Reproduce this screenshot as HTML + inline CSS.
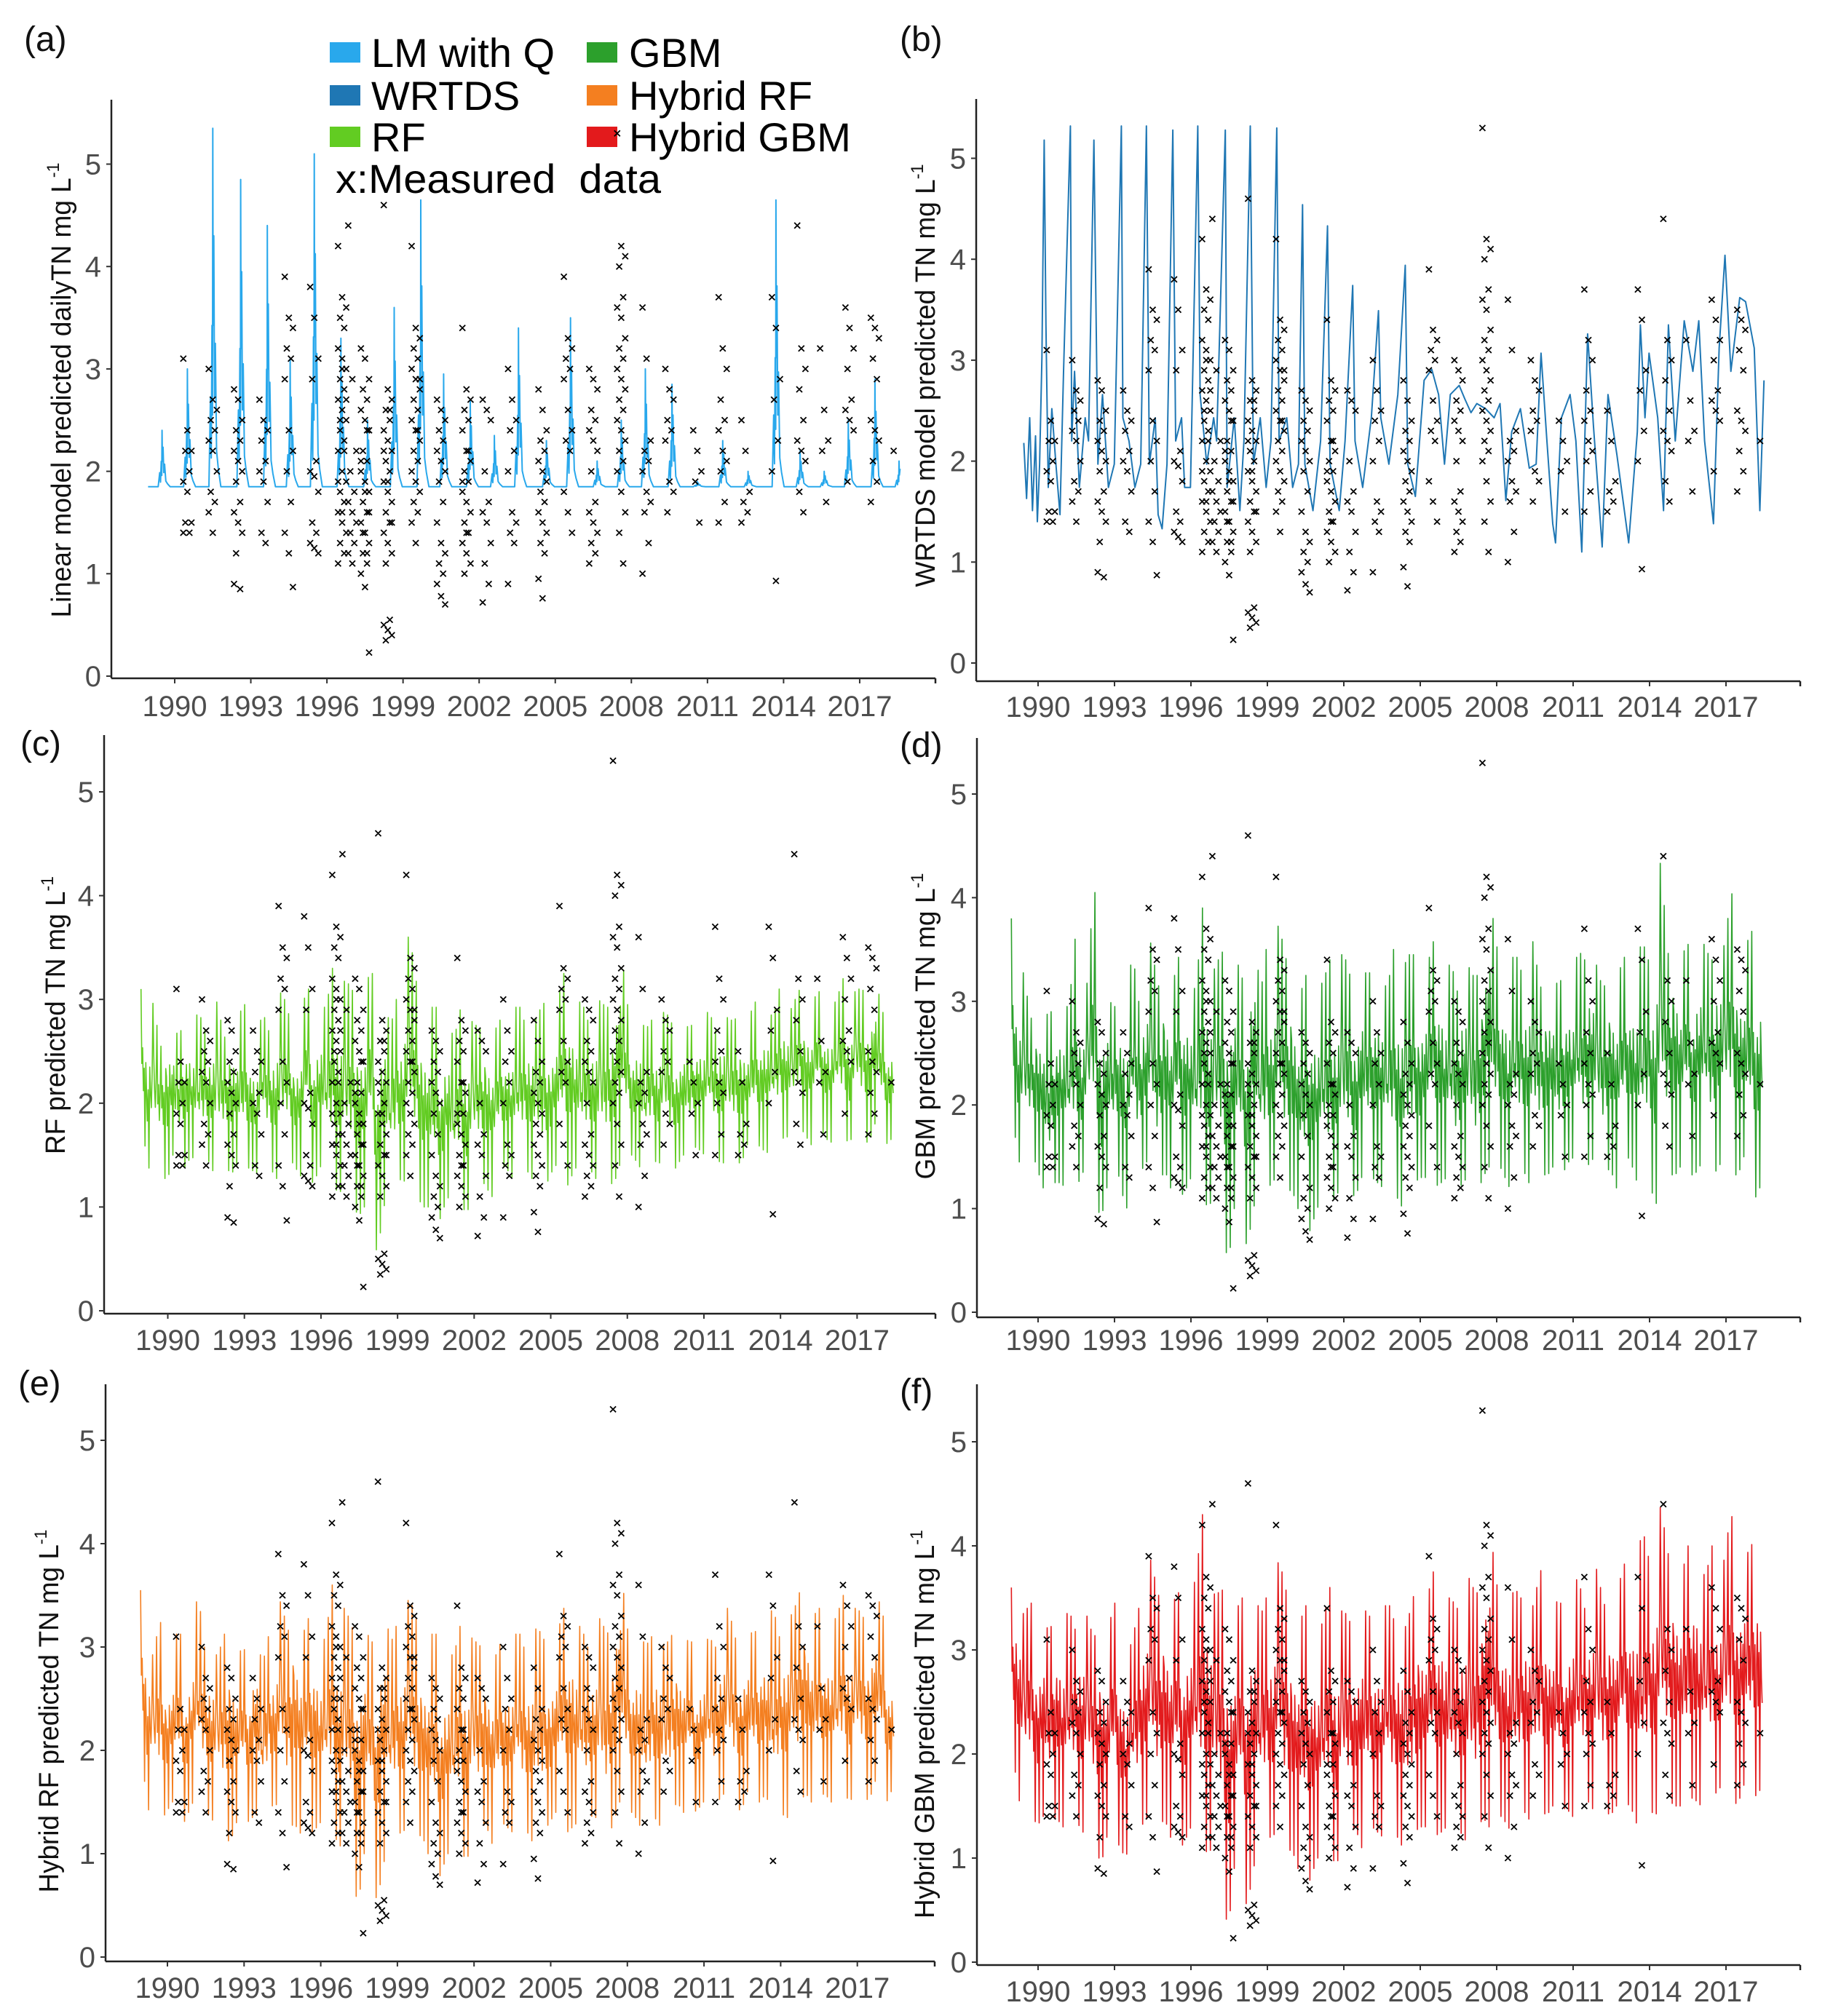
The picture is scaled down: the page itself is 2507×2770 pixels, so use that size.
<!DOCTYPE html>
<html><head><meta charset="utf-8"><style>
html,body{margin:0;padding:0;background:#fff}
svg{display:block}
text{font-family:"Liberation Sans",Arial,sans-serif}
</style></head><body>
<svg id="fig" width="2507" height="2770" viewBox="0 0 2507 2770" xmlns="http://www.w3.org/2000/svg">
<g>
 <rect x="453" y="58" width="42" height="28" fill="#29a8ec"/>
 <text x="510" y="92" font-size="56">LM with Q</text>
 <rect x="453" y="117" width="42" height="28" fill="#1f77b4"/>
 <text x="510" y="151" font-size="56">WRTDS</text>
 <rect x="453" y="174" width="42" height="28" fill="#62cc22"/>
 <text x="510" y="208" font-size="56">RF</text>
 <rect x="806" y="58" width="42" height="28" fill="#2ca02c"/>
 <text x="864" y="92" font-size="56">GBM</text>
 <rect x="806" y="117" width="42" height="28" fill="#f47f20"/>
 <text x="864" y="151" font-size="56">Hybrid RF</text>
 <rect x="806" y="174" width="42" height="28" fill="#e31a1c"/>
 <text x="864" y="208" font-size="56">Hybrid GBM</text>
 <text x="461" y="265" font-size="56" textLength="447" lengthAdjust="spacingAndGlyphs" xml:space="preserve">x:Measured  data</text>
</g>
</svg>
<script>
// ---------- data ----------
const xTickYears = [1990,1993,1996,1999,2002,2005,2008,2011,2014,2017];
const yTickVals = [0,1,2,3,4,5];
const bandStart = 1988.95, bandStep = 0.25;

const rfHi = [3.1, 2.7,3.0,2.5,2.9, 2.8,2.6,3.0,2.7, 2.9,2.7,2.8,3.0, 2.6,2.9,2.7,3.0, 2.8,2.5,2.9,2.7, 2.8,3.1,2.9,2.6, 2.7,3.2,2.8,3.0, 2.9,3.3,3.0,3.2, 3.1,3.0,2.9,3.4, 2.8,3.2,2.7,3.0, 2.9,3.7,3.2,3.0, 2.8,3.0,2.7,2.9, 2.6,2.9,2.7,2.8, 2.7,2.9,2.6,2.8, 2.8,2.7,3.0,2.8, 2.9,2.8,3.0,2.7, 2.9,3.2,3.4,2.9, 3.0,2.8,2.9,3.0, 2.9,3.1,3.75,3.0, 2.8,2.9,2.7,2.8, 2.7,2.9,2.8,2.6, 2.8,2.7,2.9,2.8, 2.9,2.7,3.0,2.8, 2.8,2.9,2.7,3.0, 2.9,3.0,2.8,3.1, 3.0,2.9,3.1,3.0, 2.9,3.1,3.0,2.9, 3.0,3.2,2.9,3.1, 3.1,3.0,3.3,2.9, 2.8,2.7];
const rfLo = [1.9, 1.4,1.3,1.5,1.2, 1.5,1.3,1.4,1.5, 1.3,1.5,1.4,1.2, 1.5,1.3,1.4,1.2, 1.4,1.3,1.5,1.4, 1.3,1.2,1.5,1.4, 1.3,1.5,1.2,1.4, 1.3,1.1,1.2,1.0, 1.1,0.9,1.0,1.2, 0.5,1.0,1.1,1.2, 1.3,1.1,1.2,1.0, 1.0,0.8,0.9,1.1, 1.0,1.1,0.9,1.2, 1.3,1.2,1.1,1.3, 1.4,1.3,1.2,1.4, 1.3,1.2,1.1,1.3, 1.4,1.3,1.2,1.4, 1.2,1.4,1.3,1.2, 1.3,1.2,1.4,1.5, 1.5,1.4,1.3,1.5, 1.4,1.5,1.3,1.4, 1.5,1.4,1.6,1.5, 1.6,1.5,1.4,1.5, 1.5,1.4,1.6,1.5, 1.6,1.5,1.7,1.6, 1.7,1.6,1.8,1.7, 1.6,1.8,1.7,1.6, 1.8,1.7,1.6,1.8, 1.7,1.6,1.8,1.7, 1.6,1.7];

const gbmHi = [3.8, 3.1,3.3,2.8,3.1, 3.0,2.8,3.2,3.1, 2.9,3.6,3.0,3.2, 4.2,3.0,3.3,2.8, 3.4,2.9,3.5,3.0, 3.3,3.6,3.1,3.5, 3.0,3.4,3.5,3.2, 3.1,3.9,3.4,3.3, 3.5,3.3,3.6,3.2, 3.3,4.2,3.0,3.5, 3.2,3.8,3.4,3.5, 3.0,3.2,3.4,3.1, 3.2,3.4,3.1,3.5, 3.3,3.0,3.4,3.2, 3.5,3.3,3.1,3.5, 3.2,3.4,3.5,3.1, 3.3,3.5,3.8,3.2, 3.4,3.1,3.5,3.3, 3.2,3.6,4.3,3.5, 3.6,3.2,3.5,3.3, 3.4,3.6,3.1,3.4, 3.3,3.1,3.5,3.2, 3.5,3.4,3.7,3.3, 3.1,3.5,3.2,3.4, 3.5,3.3,3.6,3.4, 3.5,4.45,3.4,3.9, 3.3,3.6,3.4,3.7, 3.5,3.4,3.8,3.5, 4.1,3.6,3.4,3.7, 3.6,3.5];
const gbmLo = [2.0, 1.5,1.3,1.6,1.4, 1.2,0.9,1.3,1.2, 1.4,1.2,1.3,1.5, 1.3,0.85,1.2,1.4, 1.3,0.95,1.4,1.2, 1.5,1.3,1.1,1.4, 1.2,1.4,1.1,1.3, 1.2,1.1,1.0,1.2, 1.1,0.4,1.0,1.1, 0.6,1.0,1.2,1.1, 1.3,1.2,1.1,1.2, 1.0,0.7,0.8,1.0, 1.1,0.9,1.2,1.0, 1.2,1.1,1.3,1.2, 1.3,1.2,1.3,1.1, 1.1,0.8,1.2,1.3, 1.3,1.4,1.2,1.3, 1.2,1.1,1.3,1.2, 1.1,1.3,1.4,1.3, 1.4,1.2,1.3,1.4, 1.3,1.1,1.4,1.3, 1.4,1.2,1.4,1.5, 1.4,1.3,1.5,1.4, 1.3,1.4,1.2,1.4, 1.5,1.3,1.1,1.4, 1.0,1.2,1.4,1.3, 1.4,1.5,1.3,1.4, 1.5,1.3,1.4,1.5, 1.4,1.3,1.5,1.2, 1.1,1.3];

const hrfHi = [3.55, 3.1,2.9,3.3,2.8, 3.0,3.2,2.9,3.1, 3.55,3.0,3.1,2.9, 3.1,3.3,2.9,3.0, 2.9,3.3,2.8,3.1, 3.0,3.5,3.1,3.6, 3.1,3.2,3.5,3.0, 3.1,3.6,3.2,3.4, 3.2,3.1,3.3,3.0, 3.2,3.7,3.0,3.2, 3.1,3.5,3.3,3.1, 3.0,3.2,2.9,3.0, 2.9,3.2,3.0,3.1, 3.0,3.1,2.8,3.0, 3.1,2.9,3.2,3.0, 3.0,3.2,3.1,2.9, 3.1,3.3,3.6,3.2, 3.2,3.0,3.1,3.3, 3.1,3.4,4.05,3.2, 3.1,3.2,3.0,3.1, 3.2,3.0,3.1,3.2, 3.0,3.1,2.9,3.0, 3.1,3.0,3.2,3.4, 3.1,3.0,3.2,3.1, 3.3,3.2,3.4,3.1, 3.4,3.3,3.5,3.7, 3.2,3.4,3.3,3.2, 3.3,3.5,3.2,3.4, 3.3,3.2,3.5,3.4, 3.0,2.8];
const hrfLo = [2.2, 1.4,1.5,1.3,1.4, 1.5,1.4,1.3,1.5, 1.4,1.5,1.3,1.4, 1.2,1.1,1.3,1.4, 1.3,1.4,1.2,1.4, 1.5,1.4,1.2,1.3, 1.2,1.3,1.2,1.3, 1.3,1.2,1.1,1.0, 1.0,0.45,1.0,1.1, 0.5,0.9,1.1,1.2, 1.2,1.3,1.1,1.2, 1.0,0.7,0.8,1.0, 1.0,1.1,0.9,1.2, 1.2,1.3,1.1,1.2, 1.3,1.2,1.3,1.2, 1.2,0.9,1.2,1.3, 1.4,1.3,1.2,1.3, 1.2,1.3,1.4,1.2, 1.1,1.3,1.5,1.4, 1.4,1.3,1.1,1.4, 1.3,1.2,1.4,1.5, 1.4,1.5,1.4,1.5, 1.5,1.4,1.6,1.5, 1.5,1.4,1.6,1.5, 1.5,1.6,1.0,1.5, 1.3,1.5,1.4,1.6, 1.5,1.4,1.6,1.5, 1.5,1.6,1.5,1.6, 1.6,1.5,1.7,1.6, 1.5,1.7];

const hgbmHi = [3.6, 3.7,3.3,3.5,3.1, 3.4,3.1,3.6,3.2, 3.4,3.2,3.5,3.3, 3.1,3.4,3.0,3.5, 3.3,2.9,3.1,3.4, 3.6,3.9,3.5,3.7, 3.3,3.6,3.4,3.5, 3.7,4.3,3.8,3.5, 3.6,3.4,3.3,3.5, 3.5,3.8,3.3,3.5, 3.4,3.9,3.6,3.4, 3.2,3.4,3.5,3.1, 3.3,3.6,3.2,3.4, 3.3,3.1,3.5,3.3, 3.4,3.2,3.5,3.3, 3.4,3.2,3.5,3.6, 3.4,3.7,3.9,3.5, 3.5,3.4,3.6,3.7, 3.5,3.9,4.5,3.6, 3.7,3.4,3.6,3.5, 3.6,3.4,3.8,3.5, 3.4,3.5,3.3,3.6, 3.7,3.4,3.6,3.8, 3.4,3.7,3.5,3.8, 3.9,3.6,4.2,3.9, 3.8,4.45,3.9,4.1, 3.7,3.9,4.3,3.8, 3.7,4.0,3.6,3.9, 4.35,3.8,4.0,3.9, 4.35,3.6];
const hgbmLo = [2.2, 1.6,1.4,1.5,1.3, 1.4,1.2,1.4,1.3, 1.3,1.5,1.2,1.4, 1.3,0.9,1.2,1.3, 1.1,1.0,1.3,1.2, 1.4,1.3,1.2,1.4, 1.2,1.3,1.1,1.3, 1.2,1.0,1.1,1.0, 0.9,0.25,0.9,1.0, 0.5,0.9,1.1,1.2, 1.2,1.3,1.0,1.1, 0.9,0.7,0.8,1.0, 1.0,1.1,0.9,1.2, 1.2,1.3,1.1,1.2, 1.3,1.2,1.3,1.2, 1.2,0.9,1.2,1.3, 1.3,1.4,1.2,1.3, 1.2,1.3,1.2,1.1, 1.2,1.4,1.3,1.4, 1.4,1.3,1.2,1.5, 1.4,1.3,1.5,1.4, 1.5,1.3,1.5,1.4, 1.4,1.6,1.5,1.4, 1.5,1.4,1.5,1.6, 1.5,1.4,0.9,1.5, 1.4,1.5,1.6,1.5, 1.5,1.4,1.6,1.5, 1.6,1.5,1.7,1.6, 1.6,1.5,1.7,1.6, 1.6,1.7];

const wrtdsYears = [1989.44,1989.55,1989.67,1989.78,1989.90,1989.97,1990.06,1990.15,1990.24,1990.31,1990.40,1990.54,1990.70,1990.86,1991.00,1991.27,1991.32,1991.43,1991.62,1991.85,1991.98,1992.19,1992.35,1992.53,1992.76,1992.99,1993.27,1993.33,1993.57,1993.80,1994.03,1994.25,1994.37,1994.60,1994.71,1994.87,1995.06,1995.29,1995.40,1995.63,1995.75,1995.98,1996.27,1996.36,1996.62,1996.89,1997.01,1997.35,1997.42,1997.70,1997.92,1998.08,1998.33,1998.45,1998.72,1998.95,1999.14,1999.37,1999.46,1999.76,1999.99,2000.22,2000.38,2000.47,2000.79,2001.09,2001.36,2001.46,2001.82,2002.05,2002.35,2002.44,2002.74,2003.08,2003.36,2003.45,2003.77,2004.12,2004.41,2004.51,2004.81,2005.15,2005.45,2005.72,2005.95,2006.18,2006.53,2006.76,2006.99,2007.22,2007.56,2007.90,2008.13,2008.36,2008.59,2008.93,2009.28,2009.55,2009.74,2009.97,2010.20,2010.31,2010.54,2010.88,2011.11,2011.34,2011.57,2011.80,2012.14,2012.37,2012.72,2013.18,2013.52,2013.64,2013.82,2013.98,2014.32,2014.55,2014.74,2015.01,2015.36,2015.70,2015.93,2016.16,2016.51,2016.73,2016.96,2017.19,2017.54,2017.77,2018.11,2018.33,2018.49];
const wrtdsVals = [2.18,1.63,2.43,1.51,2.25,1.40,1.97,3.03,5.18,3.35,1.74,2.52,1.97,1.47,2.89,5.32,2.2,2.89,1.74,2.43,2.2,5.18,1.97,2.66,1.74,1.97,5.32,2.43,2.2,1.74,1.97,5.32,1.97,2.43,1.47,1.33,1.97,5.28,2.2,2.43,1.74,1.74,5.32,2.66,1.97,2.43,2.2,5.28,1.74,2.43,1.51,2.2,5.32,1.97,2.43,1.74,2.2,5.30,2.2,2.43,1.74,1.97,4.54,1.97,1.51,2.2,4.33,1.97,1.51,2.2,3.74,2.2,1.74,2.43,3.49,2.43,1.97,2.66,3.94,1.97,1.65,2.8,2.91,2.66,1.97,2.66,2.75,2.61,2.48,2.57,2.52,2.43,2.57,1.61,2.29,2.52,1.93,1.97,3.07,2.2,1.38,1.19,2.43,2.66,2.2,1.10,3.26,2.34,1.15,2.66,2.06,1.19,2.29,3.35,2.43,3.07,2.43,1.51,3.35,2.2,3.39,2.89,3.39,2.2,1.38,3.12,4.04,2.89,3.62,3.58,3.12,1.51,2.8];

const lmBase = 1.85;
const lmPeakYears = [1989.5,1990.5,1991.5,1992.6,1993.65,1994.55,1995.5,1996.55,1997.6,1998.65,1999.7,2000.6,2001.65,2002.6,2003.55,2004.65,2005.6,2006.65,2007.6,2008.55,2009.6,2010.6,2011.6,2012.6,2013.7,2014.65,2015.6,2016.55,2017.6,2018.55];
const lmPeakVals = [2.4,3.0,5.35,4.85,4.4,3.1,5.1,3.3,2.5,3.6,4.65,2.95,2.7,2.35,3.4,2.3,3.5,2.1,2.5,3.0,2.85,1.9,2.3,2.0,4.65,2.2,2.0,2.5,2.9,2.1];

const measYears = [1990.5,1991.5,1992.5,1993.5,1994.5,1995.5,1996.6,1997.0,1997.5,1998.4,1999.5,2000.5,2001.5,2002.3,2003.3,2004.5,2005.5,2006.5,2007.6,2008.6,2009.5,2010.6,2011.6,2012.5,2013.7,2014.7,2015.6,2016.6,2017.6,2018.5];
const measVals = [
 [3.1,2.4,2.2,2.2,2.0,1.9,1.8,1.5,1.5,1.4,1.4],
 [3.0,2.7,2.6,2.5,2.4,2.3,2.2,2.0,1.8,1.7,1.6,1.4],
 [2.8,2.7,2.5,2.4,2.3,2.2,2.1,2.0,1.9,1.7,1.6,1.5,1.4,1.2,0.85,0.9],
 [2.7,2.5,2.4,2.3,2.1,2.0,1.9,1.7,1.4,1.3],
 [3.9,3.5,3.4,3.2,3.1,2.9,2.4,2.2,2.0,1.7,1.4,1.2,0.87],
 [3.8,3.5,3.1,2.9,2.1,2.0,1.95,1.8,1.5,1.4,1.3,1.25,1.2],
 [4.2,3.7,3.6,3.5,3.4,3.2,3.1,3.0,2.9,2.8,2.7,2.6,2.5,2.4,2.3,2.2,2.0,1.9,1.8,1.7,1.6,1.5,1.4,1.3,1.2,1.1,3.0,2.7,2.5,2.2,1.9,1.6],
 [4.4,2.9,2.2,2.0,1.8,1.7,1.6,1.5,1.4,1.3,1.2,1.1],
 [3.2,3.1,2.9,2.8,2.7,2.6,2.5,2.4,2.2,2.1,2.0,1.9,1.8,1.7,1.6,1.5,1.4,1.3,1.2,1.1,1.0,0.87,0.23,2.8,2.4,2.1,1.8,1.6,1.4,1.2],
 [4.6,2.8,2.7,2.6,2.5,2.4,2.3,2.2,2.1,2.0,1.9,1.8,1.7,1.6,1.5,1.4,1.3,1.2,1.1,0.55,0.5,0.45,0.4,0.35,2.6,2.2,1.9,1.5],
 [4.2,3.4,3.3,3.2,3.1,3.0,2.9,2.8,2.7,2.6,2.5,2.4,2.3,2.2,2.1,2.0,1.9,1.8,1.7,1.6,1.5,1.3,2.9,2.7,2.4],
 [2.7,2.6,2.5,2.4,2.3,2.2,2.1,2.0,1.9,1.7,1.5,1.3,1.2,1.1,1.0,0.9,0.78,0.7],
 [3.4,2.8,2.7,2.6,2.5,2.4,2.2,2.1,2.0,1.9,1.8,1.7,1.6,1.5,1.4,1.3,1.2,1.1,1.0,2.2,1.9,1.4],
 [2.7,2.6,2.5,2.0,1.7,1.6,1.5,1.3,1.1,0.9,0.72],
 [3.0,2.7,2.5,2.4,2.2,2.0,1.6,1.5,1.4,1.3,0.9],
 [2.8,2.6,2.4,2.3,2.2,2.1,2.0,1.9,1.8,1.7,1.6,1.5,1.4,1.3,1.2,0.95,0.76],
 [3.9,3.3,3.2,3.1,3.0,2.9,2.6,2.4,2.3,2.2,1.8,1.6,1.4],
 [3.0,2.9,2.8,2.6,2.5,2.4,2.3,2.2,2.0,1.7,1.6,1.5,1.4,1.3,1.2,1.1],
 [5.3,4.2,4.1,4.0,3.7,3.6,3.5,3.3,3.2,3.1,3.0,2.9,2.8,2.7,2.6,2.5,2.4,2.3,2.2,2.1,2.0,1.8,1.6,1.4,1.1],
 [3.6,3.1,2.3,2.2,2.1,2.0,1.8,1.7,1.6,1.3,1.0],
 [3.0,2.8,2.7,2.5,2.4,2.3,1.9,1.8,1.6],
 [2.4,2.2,2.0,1.9,1.5],
 [3.7,3.2,3.0,2.7,2.5,2.4,2.2,2.1,2.0,1.7,1.5],
 [2.5,2.2,1.8,1.7,1.6,1.5],
 [3.7,3.4,2.9,2.7,2.3,2.0,0.93],
 [4.4,3.2,3.0,2.8,2.5,2.3,2.2,2.1,1.8,1.6],
 [3.2,2.6,2.3,2.2,1.7],
 [3.6,3.4,3.2,3.0,2.7,2.6,2.5,2.4,1.9],
 [3.5,3.4,3.3,3.1,2.9,2.5,2.4,2.3,2.1,1.9,1.7],
 [2.2]
];

// ---------- layout ----------
const panels = [
 {id:'a', axL:153, axR:1285, axY:932, axTop:137, y0:929, u:140.7, x0:240, xs:34.85, lblDy:52, tag:[33,70], title:'Linear model predicted dailyTN mg L', tx:97, tcy:536, tlen:625, color:'#29a8ec', kind:'lm'},
 {id:'b', axL:1341, axR:2473, axY:936, axTop:136, y0:911, u:138.7, x0:1426, xs:35, lblDy:49, tag:[1236,70], title:'WRTDS model predicted TN mg L', tx:1284, tcy:516, tlen:581, color:'#1f77b4', kind:'wrtds'},
 {id:'c', axL:143, axR:1285, axY:1805, axTop:1010, y0:1801, u:142.6, x0:230.5, xs:35.07, lblDy:50, tag:[28,1038], title:'RF predicted TN mg L', tx:89, tcy:1395, tlen:382, color:'#62cc22', kind:'band', lo:rfLo, hi:rfHi},
 {id:'d', axL:1342, axR:2473, axY:1810, axTop:1014, y0:1803, u:142.4, x0:1426, xs:35, lblDy:45, tag:[1236,1040], title:'GBM predicted TN mg L', tx:1284, tcy:1410, tlen:421, color:'#2ca02c', kind:'band', lo:gbmLo, hi:gbmHi},
 {id:'e', axL:145, axR:1284, axY:2695, axTop:1902, y0:2689, u:142, x0:230, xs:35.1, lblDy:50, tag:[25,1917], title:'Hybrid RF predicted TN mg L', tx:80, tcy:2351, tlen:499, color:'#f47f20', kind:'band', lo:hrfLo, hi:hrfHi},
 {id:'f', axL:1342, axR:2473, axY:2700, axTop:1902, y0:2696, u:143, x0:1426, xs:35, lblDy:50, tag:[1236,1928], title:'Hybrid GBM predicted TN mg L', tx:1283, tcy:2369, tlen:534, color:'#e31a1c', kind:'band', lo:hgbmLo, hi:hgbmHi}
];

const NS = 'http://www.w3.org/2000/svg';
const svg = document.getElementById('fig');
function mk(tag, attrs, parent){ const e=document.createElementNS(NS,tag); for(const k in attrs) e.setAttribute(k,attrs[k]); (parent||svg).appendChild(e); return e; }
function X(p, yr){ return p.x0 + (yr-1990)*p.xs; }
function Y(p, v){ return p.y0 - v*p.u; }

panels.forEach(p=>{
 const g = mk('g',{});
 
 

 let pts=[];
 if(p.kind==='band'){
  const fr=[1,0.45,0.62,0.33,0.55,0,0.68,0.5,0.4,0.6];
  for(let i=0;i<p.hi.length-1;i++){
   for(let j=0;j<8;j++){
    const t=j/8, h=p.hi[i]+(p.hi[i+1]-p.hi[i])*t, l=p.lo[i]+(p.lo[i+1]-p.lo[i])*t;
    const yr=bandStart+(i+t)*bandStep;
    const f=fr[(j+i*3)%10];
    pts.push(X(p,yr).toFixed(1)+','+Y(p,l+f*(h-l)).toFixed(1));
   }
  }
 } else if(p.kind==='wrtds'){
  for(let i=0;i<wrtdsYears.length;i++) pts.push(X(p,wrtdsYears[i]).toFixed(1)+','+Y(p,wrtdsVals[i]).toFixed(1));
 } else {
  pts.push(X(p,1988.95).toFixed(1)+','+Y(p,lmBase).toFixed(1));
  const sh=[[-0.15,0],[-0.09,0.25],[-0.06,0.08],[-0.03,0.45],[-0.01,0.2],[0,1],[0.015,0.45],[0.04,0.7],[0.07,0.25],[0.1,0.4],[0.15,0.1],[0.22,0.05],[0.32,0]];
  for(let i=0;i<lmPeakYears.length;i++){
   sh.forEach(s=>{ const yr=lmPeakYears[i]+s[0]; if(yr<2018.6) pts.push(X(p,yr).toFixed(1)+','+Y(p,lmBase+s[1]*(lmPeakVals[i]-lmBase)).toFixed(1)); });
  }
 }
 const line = mk('polyline',{points:pts.join(' '), fill:'none', stroke:p.color, 'stroke-width':(p.kind==='band'?1.6:2.0), 'stroke-linejoin':'round'}, g);
 
 

 let d='';
 for(let c=0;c<measYears.length;c++){
  measVals[c].forEach((v,k)=>{
   const yr=measYears[c]+(((k*7)%5)-2)*0.08;
   const x=X(p,yr), y=Y(p,v);
   d+='M'+(x-4).toFixed(1)+' '+(y-4).toFixed(1)+'L'+(x+4).toFixed(1)+' '+(y+4).toFixed(1)+'M'+(x+4).toFixed(1)+' '+(y-4).toFixed(1)+'L'+(x-4).toFixed(1)+' '+(y+4).toFixed(1);
  });
 }
 const meas = mk('path',{d:d, stroke:'#000', 'stroke-width':1.8, fill:'none'}, g);
 
 

 const ya = mk('line',{x1:p.axL,y1:p.axTop,x2:p.axL,y2:p.axY,stroke:'#222','stroke-width':2.5}, g);
 
 
 const xa = mk('line',{x1:p.axL,y1:p.axY,x2:p.axR,y2:p.axY,stroke:'#222','stroke-width':2.5}, g);
 
 
 mk('line',{x1:p.axR,y1:p.axY,x2:p.axR,y2:p.axY+7,stroke:'#222','stroke-width':2.5}, g);

 xTickYears.forEach(yr=>{
  const x=X(p,yr);
  mk('line',{x1:x,y1:p.axY,x2:x,y2:p.axY+7,stroke:'#333','stroke-width':2}, g);
  const t=mk('text',{x:x,y:p.axY+p.lblDy,'font-size':40,'text-anchor':'middle',fill:'#4d4d4d'}, g);
  t.textContent=String(yr);
  
  
 });
 yTickVals.forEach(v=>{
  const y=Y(p,v);
  mk('line',{x1:p.axL-7,y1:y,x2:p.axL,y2:y,stroke:'#333','stroke-width':2}, g);
  const t=mk('text',{x:p.axL-14,y:y+14,'font-size':40,'text-anchor':'end',fill:'#4d4d4d'}, g);
  t.textContent=String(v);
  
  
 });

 const tt=mk('text',{transform:'translate('+p.tx+','+p.tcy+') rotate(-90)','font-size':38,'text-anchor':'middle',fill:'#111',textLength:p.tlen,lengthAdjust:'spacingAndGlyphs'}, g);
 
 
 const s1=mk('tspan',{}, tt); s1.textContent=p.title;
 const s2=mk('tspan',{dy:-16,'font-size':24}, tt); s2.textContent='-1';

 const tag=mk('text',{x:p.tag[0],y:p.tag[1],'font-size':48,fill:'#111'}, g);
 tag.textContent='('+p.id+')';
 
 
});
</script>
</body></html>
